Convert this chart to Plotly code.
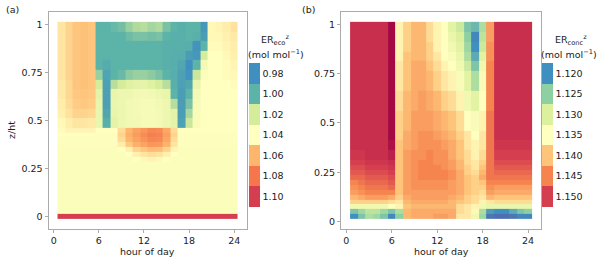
import plotly.graph_objects as go

# ---------------- data ----------------
hours = list(range(1, 25))
x_ticks = [0, 6, 12, 18, 24]
y_ticks = [0, 0.25, 0.5, 0.75, 1]
y_tick_text = ["0", "0.25", "0.5", "0.75", "1"]

# panel (a): ER_eco^z, row boundaries (z/ht) and rows of values (bottom -> top), columns = hours 1..24
z_edges_eco = [-0.0125, 0.0125, 0.2875, 0.3125, 0.3375, 0.3625, 0.3875, 0.4125, 0.4375, 0.4625,
               0.5125, 0.5625, 0.6125, 0.6625, 0.7125, 0.7625, 0.8125, 0.8625, 0.9125, 0.9625, 1.0125]
er_eco = [
    [1.10, 1.10, 1.10, 1.10, 1.10, 1.10, 1.10, 1.10, 1.10, 1.10, 1.10, 1.10, 1.10, 1.10, 1.10, 1.10, 1.10, 1.10, 1.10, 1.10, 1.10, 1.10, 1.10, 1.10],
    [1.038, 1.038, 1.038, 1.038, 1.038, 1.038, 1.038, 1.038, 1.038, 1.038, 1.038, 1.038, 1.038, 1.038, 1.038, 1.038, 1.038, 1.038, 1.038, 1.038, 1.038, 1.038, 1.038, 1.038],
    [1.038, 1.038, 1.038, 1.038, 1.038, 1.038, 1.038, 1.038, 1.038, 1.038, 1.040, 1.042, 1.043, 1.042, 1.040, 1.038, 1.038, 1.038, 1.038, 1.038, 1.038, 1.038, 1.038, 1.038],
    [1.038, 1.038, 1.038, 1.038, 1.038, 1.038, 1.038, 1.038, 1.038, 1.040, 1.044, 1.047, 1.049, 1.048, 1.044, 1.040, 1.038, 1.038, 1.038, 1.038, 1.038, 1.038, 1.038, 1.038],
    [1.038, 1.038, 1.038, 1.038, 1.038, 1.038, 1.038, 1.038, 1.040, 1.044, 1.052, 1.056, 1.059, 1.058, 1.052, 1.043, 1.038, 1.038, 1.038, 1.038, 1.038, 1.038, 1.038, 1.038],
    [1.039, 1.039, 1.039, 1.039, 1.039, 1.039, 1.039, 1.039, 1.045, 1.055, 1.062, 1.066, 1.070, 1.069, 1.061, 1.047, 1.039, 1.039, 1.039, 1.039, 1.039, 1.039, 1.039, 1.039],
    [1.039, 1.039, 1.039, 1.039, 1.039, 1.039, 1.039, 1.039, 1.050, 1.060, 1.066, 1.071, 1.075, 1.074, 1.065, 1.050, 1.039, 1.039, 1.039, 1.039, 1.039, 1.039, 1.039, 1.039],
    [1.040, 1.040, 1.040, 1.040, 1.040, 1.039, 1.039, 1.039, 1.052, 1.062, 1.068, 1.073, 1.077, 1.076, 1.067, 1.052, 1.039, 1.039, 1.039, 1.039, 1.039, 1.039, 1.039, 1.039],
    [1.041, 1.043, 1.043, 1.043, 1.043, 1.040, 1.040, 1.040, 1.050, 1.060, 1.066, 1.070, 1.074, 1.073, 1.064, 1.050, 1.040, 1.040, 1.040, 1.040, 1.040, 1.040, 1.040, 1.040],
    [1.042, 1.045, 1.047, 1.047, 1.046, 1.030, 0.998, 1.027, 1.032, 1.034, 1.034, 1.036, 1.036, 1.035, 1.032, 1.027, 0.990, 1.018, 1.037, 1.040, 1.040, 1.040, 1.040, 1.040],
    [1.044, 1.048, 1.052, 1.052, 1.051, 1.030, 0.993, 1.029, 1.032, 1.034, 1.035, 1.036, 1.036, 1.035, 1.032, 1.027, 0.988, 1.012, 1.037, 1.040, 1.040, 1.040, 1.040, 1.040],
    [1.045, 1.050, 1.054, 1.055, 1.054, 1.029, 0.990, 1.030, 1.032, 1.034, 1.035, 1.036, 1.036, 1.034, 1.032, 1.015, 0.988, 1.005, 1.036, 1.040, 1.040, 1.040, 1.040, 1.040],
    [1.046, 1.051, 1.055, 1.056, 1.055, 1.027, 0.990, 1.029, 1.032, 1.032, 1.034, 1.035, 1.034, 1.032, 1.029, 1.000, 0.988, 1.000, 1.035, 1.040, 1.040, 1.040, 1.040, 1.040],
    [1.046, 1.051, 1.056, 1.057, 1.056, 1.020, 0.990, 1.015, 1.020, 1.025, 1.027, 1.028, 1.025, 1.020, 1.015, 0.998, 0.990, 0.993, 1.030, 1.040, 1.040, 1.040, 1.040, 1.041],
    [1.047, 1.052, 1.056, 1.057, 1.056, 1.010, 0.992, 1.000, 1.002, 1.008, 1.010, 1.010, 1.008, 1.005, 1.000, 0.997, 0.990, 0.982, 1.018, 1.038, 1.040, 1.040, 1.041, 1.042],
    [1.047, 1.052, 1.056, 1.057, 1.056, 1.000, 0.996, 1.000, 1.000, 1.000, 1.000, 1.000, 1.000, 1.000, 0.998, 0.997, 0.993, 0.980, 1.000, 1.035, 1.040, 1.040, 1.041, 1.043],
    [1.047, 1.052, 1.056, 1.057, 1.056, 1.000, 1.000, 1.000, 1.000, 1.000, 1.000, 1.000, 1.000, 1.000, 0.998, 0.997, 0.997, 0.988, 0.985, 1.020, 1.040, 1.040, 1.042, 1.044],
    [1.047, 1.052, 1.056, 1.057, 1.056, 1.000, 1.000, 1.000, 1.000, 1.000, 1.000, 1.000, 1.000, 1.000, 0.998, 0.998, 0.998, 0.997, 0.983, 1.000, 1.041, 1.041, 1.043, 1.045],
    [1.047, 1.052, 1.056, 1.057, 1.056, 1.000, 1.000, 1.000, 1.000, 1.003, 1.005, 1.005, 1.004, 1.005, 1.000, 0.998, 0.998, 1.000, 0.998, 0.988, 1.042, 1.042, 1.044, 1.046],
    [1.047, 1.052, 1.056, 1.057, 1.056, 1.000, 1.000, 1.002, 1.004, 1.010, 1.014, 1.015, 1.012, 1.014, 1.005, 1.000, 0.998, 1.000, 1.000, 0.985, 1.042, 1.043, 1.045, 1.048],
]

# panel (b): ER_conc^z
z_edges_conc = [0.0125, 0.0375, 0.0625, 0.0875, 0.1125, 0.1375, 0.1625, 0.1875, 0.2125, 0.2375, 0.2625,
                0.2875, 0.3125, 0.3625, 0.4125, 0.4625, 0.5625, 0.6625, 0.7625, 0.8125, 0.8625, 0.9125,
                0.9625, 1.0125]
er_conc = [
    [1.120, 1.124, 1.127, 1.126, 1.124, 1.119, 1.125, 1.141, 1.142, 1.142, 1.142, 1.143, 1.143, 1.142, 1.137, 1.137, 1.133, 1.126, 1.117, 1.116, 1.116, 1.117, 1.119, 1.119],
    [1.124, 1.126, 1.128, 1.128, 1.126, 1.124, 1.127, 1.141, 1.142, 1.142, 1.142, 1.142, 1.142, 1.142, 1.138, 1.137, 1.134, 1.127, 1.121, 1.120, 1.120, 1.122, 1.124, 1.125],
    [1.133, 1.133, 1.133, 1.133, 1.133, 1.135, 1.136, 1.140, 1.141, 1.141, 1.141, 1.141, 1.141, 1.141, 1.138, 1.137, 1.136, 1.133, 1.132, 1.132, 1.132, 1.132, 1.132, 1.132],
    [1.139, 1.139, 1.139, 1.139, 1.139, 1.138, 1.137, 1.141, 1.142, 1.142, 1.142, 1.142, 1.142, 1.141, 1.140, 1.139, 1.138, 1.136, 1.137, 1.138, 1.138, 1.138, 1.138, 1.138],
    [1.141, 1.142, 1.143, 1.143, 1.143, 1.142, 1.139, 1.142, 1.143, 1.143, 1.143, 1.143, 1.143, 1.142, 1.141, 1.139, 1.138, 1.137, 1.141, 1.140, 1.140, 1.140, 1.140, 1.140],
    [1.143, 1.144, 1.145, 1.145, 1.145, 1.145, 1.140, 1.143, 1.143, 1.143, 1.143, 1.143, 1.143, 1.143, 1.142, 1.140, 1.139, 1.138, 1.143, 1.142, 1.142, 1.142, 1.142, 1.142],
    [1.144, 1.145, 1.146, 1.146, 1.146, 1.147, 1.140, 1.143, 1.144, 1.144, 1.144, 1.144, 1.144, 1.143, 1.142, 1.140, 1.139, 1.139, 1.144, 1.143, 1.143, 1.143, 1.143, 1.143],
    [1.145, 1.146, 1.147, 1.147, 1.147, 1.148, 1.140, 1.143, 1.144, 1.144, 1.144, 1.144, 1.144, 1.143, 1.142, 1.140, 1.139, 1.140, 1.145, 1.145, 1.145, 1.145, 1.145, 1.145],
    [1.147, 1.147, 1.148, 1.148, 1.148, 1.149, 1.140, 1.143, 1.144, 1.145, 1.145, 1.145, 1.145, 1.144, 1.142, 1.140, 1.139, 1.142, 1.146, 1.146, 1.146, 1.146, 1.146, 1.146],
    [1.148, 1.148, 1.149, 1.149, 1.149, 1.150, 1.140, 1.143, 1.144, 1.145, 1.145, 1.145, 1.145, 1.144, 1.142, 1.139, 1.138, 1.141, 1.146, 1.147, 1.147, 1.147, 1.147, 1.147],
    [1.149, 1.149, 1.150, 1.150, 1.150, 1.151, 1.140, 1.143, 1.144, 1.145, 1.145, 1.145, 1.144, 1.143, 1.141, 1.139, 1.137, 1.140, 1.146, 1.148, 1.148, 1.148, 1.148, 1.148],
    [1.150, 1.150, 1.151, 1.151, 1.151, 1.152, 1.140, 1.143, 1.144, 1.145, 1.145, 1.144, 1.144, 1.143, 1.141, 1.138, 1.137, 1.139, 1.146, 1.149, 1.149, 1.149, 1.149, 1.149],
    [1.151, 1.151, 1.152, 1.152, 1.152, 1.154, 1.140, 1.143, 1.144, 1.144, 1.145, 1.144, 1.144, 1.142, 1.140, 1.138, 1.136, 1.138, 1.146, 1.150, 1.150, 1.150, 1.150, 1.150],
    [1.152, 1.152, 1.152, 1.152, 1.152, 1.156, 1.140, 1.142, 1.143, 1.144, 1.144, 1.144, 1.143, 1.142, 1.140, 1.137, 1.136, 1.137, 1.146, 1.151, 1.151, 1.151, 1.151, 1.151],
    [1.152, 1.152, 1.152, 1.152, 1.152, 1.157, 1.139, 1.142, 1.143, 1.144, 1.144, 1.143, 1.142, 1.141, 1.139, 1.137, 1.135, 1.137, 1.146, 1.152, 1.152, 1.152, 1.152, 1.152],
    [1.152, 1.152, 1.152, 1.152, 1.152, 1.157, 1.139, 1.141, 1.143, 1.143, 1.143, 1.142, 1.141, 1.140, 1.138, 1.135, 1.134, 1.136, 1.146, 1.152, 1.152, 1.152, 1.152, 1.152],
    [1.152, 1.152, 1.152, 1.152, 1.152, 1.157, 1.138, 1.141, 1.142, 1.143, 1.142, 1.141, 1.139, 1.138, 1.136, 1.133, 1.131, 1.135, 1.145, 1.152, 1.152, 1.152, 1.152, 1.152],
    [1.152, 1.152, 1.152, 1.152, 1.152, 1.157, 1.137, 1.140, 1.142, 1.142, 1.141, 1.139, 1.137, 1.136, 1.134, 1.131, 1.127, 1.134, 1.145, 1.152, 1.152, 1.152, 1.152, 1.152],
    [1.152, 1.152, 1.152, 1.152, 1.152, 1.157, 1.137, 1.140, 1.142, 1.142, 1.140, 1.138, 1.136, 1.135, 1.133, 1.129, 1.124, 1.133, 1.145, 1.152, 1.152, 1.152, 1.152, 1.152],
    [1.152, 1.152, 1.152, 1.152, 1.152, 1.157, 1.136, 1.140, 1.141, 1.141, 1.139, 1.137, 1.135, 1.134, 1.132, 1.127, 1.122, 1.131, 1.144, 1.152, 1.152, 1.152, 1.152, 1.152],
    [1.152, 1.152, 1.152, 1.152, 1.152, 1.157, 1.136, 1.139, 1.141, 1.141, 1.139, 1.136, 1.135, 1.133, 1.131, 1.126, 1.120, 1.129, 1.144, 1.152, 1.152, 1.152, 1.152, 1.152],
    [1.152, 1.152, 1.152, 1.152, 1.152, 1.157, 1.136, 1.139, 1.141, 1.141, 1.138, 1.136, 1.135, 1.132, 1.130, 1.125, 1.119, 1.128, 1.143, 1.152, 1.152, 1.152, 1.152, 1.152],
    [1.152, 1.152, 1.152, 1.152, 1.152, 1.157, 1.136, 1.139, 1.141, 1.141, 1.138, 1.136, 1.135, 1.131, 1.129, 1.124, 1.123, 1.127, 1.143, 1.152, 1.152, 1.152, 1.152, 1.152],
]

# colour-bar levels and colours
eco_levels = [0.98, 1.00, 1.02, 1.04, 1.06, 1.08, 1.10]
eco_colors = ["#3f8fc0", "#5cb3a8", "#d5ec9a", "#ffffbf", "#fdb66c", "#f4764a", "#d53e4f"]
eco_ext = (0.96, 1.12)
conc_levels = [1.120, 1.125, 1.130, 1.135, 1.140, 1.145, 1.150]
conc_colors = ["#3f8fc0", "#8dd1a3", "#dcf09d", "#ffffbf", "#fec47a", "#f6844f", "#d53e4f"]
conc_ext = (1.112, 1.158)
low_color, high_color = "#5e4fa2", "#9e0142"

# ---------------- helpers ----------------
W, H = 600, 262
FONT = "DejaVu Sans"
TXT = "#222222"


def px_x(p):
    return p / W


def px_y(p):
    return 1 - p / H


def cont_scale(levels, colors, ext):
    vals = [ext[0]] + levels + [ext[1]]
    cols = [low_color] + colors + [high_color]
    lo, hi = ext
    return [[(v - lo) / (hi - lo), c] for v, c in zip(vals, cols)]


def step_scale(colors):
    n = len(colors)
    sc = []
    for i, c in enumerate(colors):
        sc.append([i / n, c])
        sc.append([(i + 1) / n, c])
    return sc


def edges(centers):
    return [c - 0.5 for c in centers] + [centers[-1] + 0.5]


fig = go.Figure()

panels = [
    dict(z=er_eco, ye=z_edges_eco, levels=eco_levels, colors=eco_colors, ext=eco_ext, step=0.02, fmt="{:.2f}",
         xa="x", ya="y", bar_x=249),
    dict(z=er_conc, ye=z_edges_conc, levels=conc_levels, colors=conc_colors, ext=conc_ext, step=0.005, fmt="{:.3f}",
         xa="x2", ya="y2", bar_x=542),
]

for p in panels:
    fig.add_trace(go.Heatmap(
        x=edges(hours), y=p["ye"], z=p["z"],
        colorscale=cont_scale(p["levels"], p["colors"], p["ext"]),
        zmin=p["ext"][0], zmax=p["ext"][1], zsmooth=False, showscale=False,
        xaxis=p["xa"], yaxis=p["ya"], hoverinfo="skip"))
    lv = p["levels"]
    cmin = -(lv[-1] + p["step"] / 2)
    cmax = -(lv[0] - p["step"] / 2)
    fig.add_trace(go.Scatter(
        x=[None], y=[None], mode="markers", showlegend=False, hoverinfo="skip",
        xaxis=p["xa"], yaxis=p["ya"],
        marker=dict(color=[-lv[3]], cmin=cmin, cmax=cmax,
                    colorscale=step_scale(p["colors"][::-1]), showscale=True,
                    colorbar=dict(x=px_x(p["bar_x"]), xanchor="left", y=px_y(135), yanchor="middle",
                                  len=144, lenmode="pixels", thickness=11, thicknessmode="pixels",
                                  outlinewidth=0, ticks="", xpad=0, ypad=0,
                                  tickvals=[-v for v in lv], ticktext=[p["fmt"].format(v) for v in lv],
                                  tickfont=dict(family=FONT, size=9.5, color=TXT)))))

axis_common = dict(showline=True, mirror=True, linecolor="#ababab", linewidth=1,
                   ticks="outside", ticklen=3, tickcolor="#ababab", tickwidth=1,
                   showgrid=False, zeroline=False,
                   tickfont=dict(family=FONT, size=9.5, color=TXT))
yd = [px_y(229), px_y(12)]
fig.update_layout(
    width=W, height=H, margin=dict(l=0, r=0, t=0, b=0),
    paper_bgcolor="white", plot_bgcolor="white", showlegend=False,
    xaxis=dict(domain=[px_x(48.5), px_x(247)], range=[-0.7, 25.7], tickvals=x_ticks, **axis_common),
    yaxis=dict(domain=yd, range=[-0.0638, 1.0638], tickvals=y_ticks, ticktext=y_tick_text, **axis_common),
    xaxis2=dict(domain=[px_x(341), px_x(541)], range=[-0.7, 25.7], tickvals=x_ticks, anchor="y2", **axis_common),
    yaxis2=dict(domain=yd, range=[-0.0375, 1.0625], tickvals=y_ticks, ticktext=y_tick_text, anchor="x2",
                **axis_common),
)


def ann(text, x, y, size=9.5, xanchor="center", angle=0):
    fig.add_annotation(text=text, x=px_x(x), y=px_y(y), xref="paper", yref="paper", showarrow=False,
                       xanchor=xanchor, yanchor="middle", textangle=angle,
                       font=dict(family=FONT, size=size, color=TXT))


ann("(a)", 4, 10, xanchor="left")
ann("(b)", 300, 10, xanchor="left")
ann("hour of day", 147.5, 251)
ann("hour of day", 441, 251)
ann("z/ht", 11, 130, angle=-90)
ann("ER<sub>eco</sub><sup>z</sup>", 275, 40)
ann("(mol mol<sup>−1</sup>)", 276, 54)
ann("ER<sub>conc</sub><sup>z</sup>", 571, 40)
ann("(mol mol<sup>−1</sup>)", 569, 54)

fig.write_html("out.html", config={"displayModeBar": False},
               post_script="document.body.style.margin='0';document.body.style.overflow='hidden';")
